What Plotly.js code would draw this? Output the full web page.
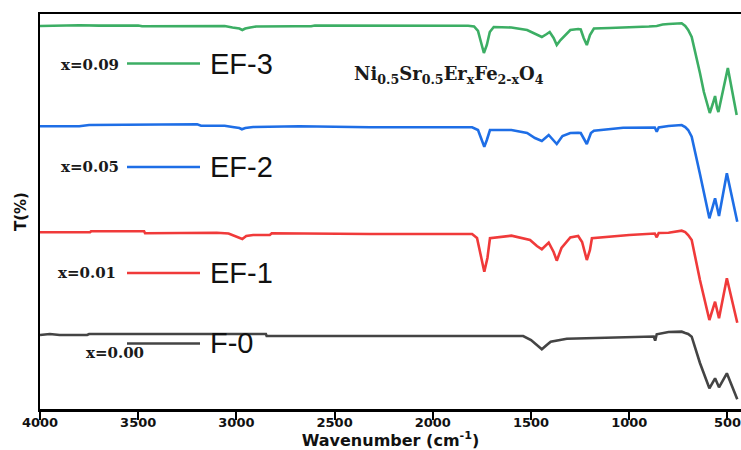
<!DOCTYPE html>
<html>
<head>
<meta charset="utf-8">
<script src="https://cdn.plot.ly/plotly-3.0.1.min.js"></script>
<style>html,body{margin:0;padding:0;background:#fff;}#chart{width:741px;height:450px;}</style>
</head>
<body>
<div id="chart"></div>
<script>
// ---- Data (y = offset transmittance, arbitrary units) ----
const wnF3 = [4000,3900,3800,3700,3600,3500,3480,3300,3160,3140,3060,3020,2985,2970,2955,2930,2900,2700,2620,2600,2400,2200,2000,1900,1820,1790,1770,1755,1740,1725,1710,1690,1600,1520,1480,1445,1420,1405,1385,1369,1350,1300,1260,1247,1232,1216,1200,1180,1100,1000,900,860,830,800,760,733,715,700,682,660,640,620,600,590,575,563,553,546,498,453];
const tF3  = [95.75,95.88,95.93,95.85,95.93,95.88,95.68,95.68,95.63,95.8,95.75,95.38,95.13,94.75,95.13,95.38,95.63,95.68,95.68,95.88,95.88,95.83,95.83,95.88,95.8,95.63,94.5,91.75,89.0,91.0,94.25,95.5,95.38,94.75,93.75,93.0,93.75,94.25,92.75,91.0,92.25,94.75,95.0,94.88,92.75,91.0,93.5,95.13,95.25,95.38,95.63,95.75,96.13,96.25,96.43,96.43,95.75,94.75,93.0,88.5,84.0,79.25,75.25,74.0,76.25,78.25,75.25,74.25,85.25,73.5];

const wnF2 = [4000,3800,3750,3500,3460,3200,3180,3060,3020,2985,2972,2955,2915,2700,2680,2320,2000,1800,1770,1755,1738,1725,1709,1600,1520,1480,1445,1410,1369,1340,1300,1260,1247,1216,1195,1180,1031,870,860,850,800,733,715,700,682,640,592,563,543,503,450];
const tF2  = [70.68,70.68,71.0,71.0,71.18,71.18,70.83,70.83,70.5,70.25,69.93,70.25,70.5,70.5,70.68,70.43,70.43,70.43,69.75,67.75,65.58,67.25,69.75,69.75,69.0,67.75,67.0,68.5,66.25,68.25,69.0,69.08,69.0,66.25,69.0,69.58,70.33,70.38,69.33,70.38,70.75,71.0,70.5,69.75,68.08,58.75,47.68,52.68,48.25,58.93,46.83];

const wnF1 = [4000,3745,3740,3470,3465,3185,3100,3040,3000,2970,2950,2915,2830,2820,2320,1800,1775,1755,1738,1722,1709,1600,1505,1470,1445,1410,1385,1369,1345,1300,1260,1240,1216,1200,1190,1000,870,860,850,800,733,715,700,682,640,592,563,543,503,450];
const tF1  = [44.18,44.18,44.43,44.43,43.93,43.93,44.08,43.88,43.13,42.5,43.25,43.5,43.5,43.93,43.75,43.75,42.75,37.75,34.33,37.75,42.68,43.33,42.25,40.75,39.93,41.58,39.25,37.08,40.25,42.88,43.25,41.75,37.25,39.75,42.68,43.5,43.88,42.93,44.0,44.08,44.58,44.25,43.5,42.25,32.25,22.25,26.83,22.68,32.68,21.58];

const wnF0 = [4000,3950,3900,3760,3750,3200,2850,2846,2000,1540,1500,1470,1445,1420,1400,1318,1031,875,868,860,800,733,715,700,682,640,592,563,543,503,450];
const tF0  = [18.5,18.75,18.5,18.5,18.75,18.75,18.75,18.25,18.25,18.25,17.25,16.0,14.93,16.0,16.83,17.58,17.93,18.13,17.08,18.68,19.25,19.33,19.0,18.75,18.08,11.5,5.18,7.68,5.43,8.93,2.43];

const sampleNames = ["F-0","EF-1","EF-2","EF-3"];
const xLabels = ["x=0.00","x=0.01","x=0.05","x=0.09"];
const seriesColors = ["#444444","#f03a3a","#1e6ee6","#3cae64"];
const tickVals = [4000,3500,3000,2500,2000,1500,1000,500];
const tickTexts = ["4000","3500","3000","2500","2000","1500","1000","500"];
const formula = "Ni<sub>0.5</sub>Sr<sub>0.5</sub>Er<sub>x</sub>Fe<sub>2-x</sub>O<sub>4</sub>";

// ---- Build ----
const W = 741, H = 450, mL = 40, mR = 0, mT = 14, mB = 41;
const pw = W - mL - mR, ph = H - mT - mB;
const px = v => (v - mL) / pw;          // pixel -> paper x
const py = v => (H - mB - v) / ph;      // pixel -> paper y

const xs = [wnF0, wnF1, wnF2, wnF3];
const ys = [tF0, tF1, tF2, tF3];
const traces = xs.map((x, i) => ({
  x: x, y: ys[i], type: "scatter", mode: "lines", name: sampleNames[i],
  line: {color: seriesColors[i], width: 2.6}, showlegend: false, hoverinfo: "skip"
}));

// legend-like labels
const legendRows = [ // pixel placement of each row: [labelLeft, labelY, lineY, nameY]
  [85, 353, 343.5, 343],
  [57, 273, 273, 273],
  [60, 167, 167, 167],
  [60, 64.5, 63.5, 64]
];
const annotations = [];
const shapes = [];
legendRows.forEach((r, i) => {
  annotations.push({xref:"paper", yref:"paper", x: px(r[0]), y: py(r[1]), xanchor:"left", yanchor:"middle",
    text: xLabels[i], showarrow:false, borderpad:0,
    font:{family:"DejaVu Serif", size:15, color:"#1a1a1a", weight:"bold"}});
  annotations.push({xref:"paper", yref:"paper", x: px(209), y: py(r[3]), xanchor:"left", yanchor:"middle",
    text: sampleNames[i], showarrow:false, borderpad:0,
    font:{family:"Liberation Sans, Arial", size:29, color:"#111111"}});
  shapes.push({type:"line", xref:"paper", yref:"paper", x0: px(127), x1: px(200), y0: py(r[2]), y1: py(r[2]),
    line:{color: seriesColors[i], width: 2.5}});
});
annotations.push({xref:"paper", yref:"paper", x: px(449), y: py(75), xanchor:"center", yanchor:"middle",
  text: formula, showarrow:false,
  font:{family:"DejaVu Serif", size:18, color:"#1a1a1a", weight:"bold"}});

const layout = {
  width: W, height: H,
  margin: {l: mL, r: mR, t: mT, b: mB, pad: 0},
  paper_bgcolor: "#ffffff", plot_bgcolor: "#ffffff",
  showlegend: false,
  xaxis: {
    range: [4000, 431], tickmode: "array", tickvals: tickVals, ticktext: tickTexts,
    ticks: "outside", ticklen: 8, tickwidth: 2, tickcolor: "#000",
    ticklabeloverflow: "allow", ticklabelstandoff: -8,
    showgrid: false, zeroline: false, showline: true, linecolor: "#000", linewidth: 2.5, mirror: true,
    tickfont: {family: "DejaVu Sans", size: 13, color: "#111", weight: "bold"},
    title: {text: "Wavenumber (cm<sup>-1</sup>)", standoff: 6,
      font: {family: "DejaVu Sans", size: 16, color: "#111", weight: "bold"}}
  },
  yaxis: {
    range: [0, 98.75], showticklabels: false, ticks: "",
    showgrid: false, zeroline: false, showline: true, linecolor: "#000", linewidth: 2.5,
    title: {text: "T(%)", standoff: 8,
      font: {family: "DejaVu Sans", size: 15, color: "#111", weight: "bold"}}
  },
  annotations: annotations,
  shapes: shapes
};

Plotly.newPlot("chart", traces, layout, {displayModeBar: false, staticPlot: true});
</script>
</body>
</html>
